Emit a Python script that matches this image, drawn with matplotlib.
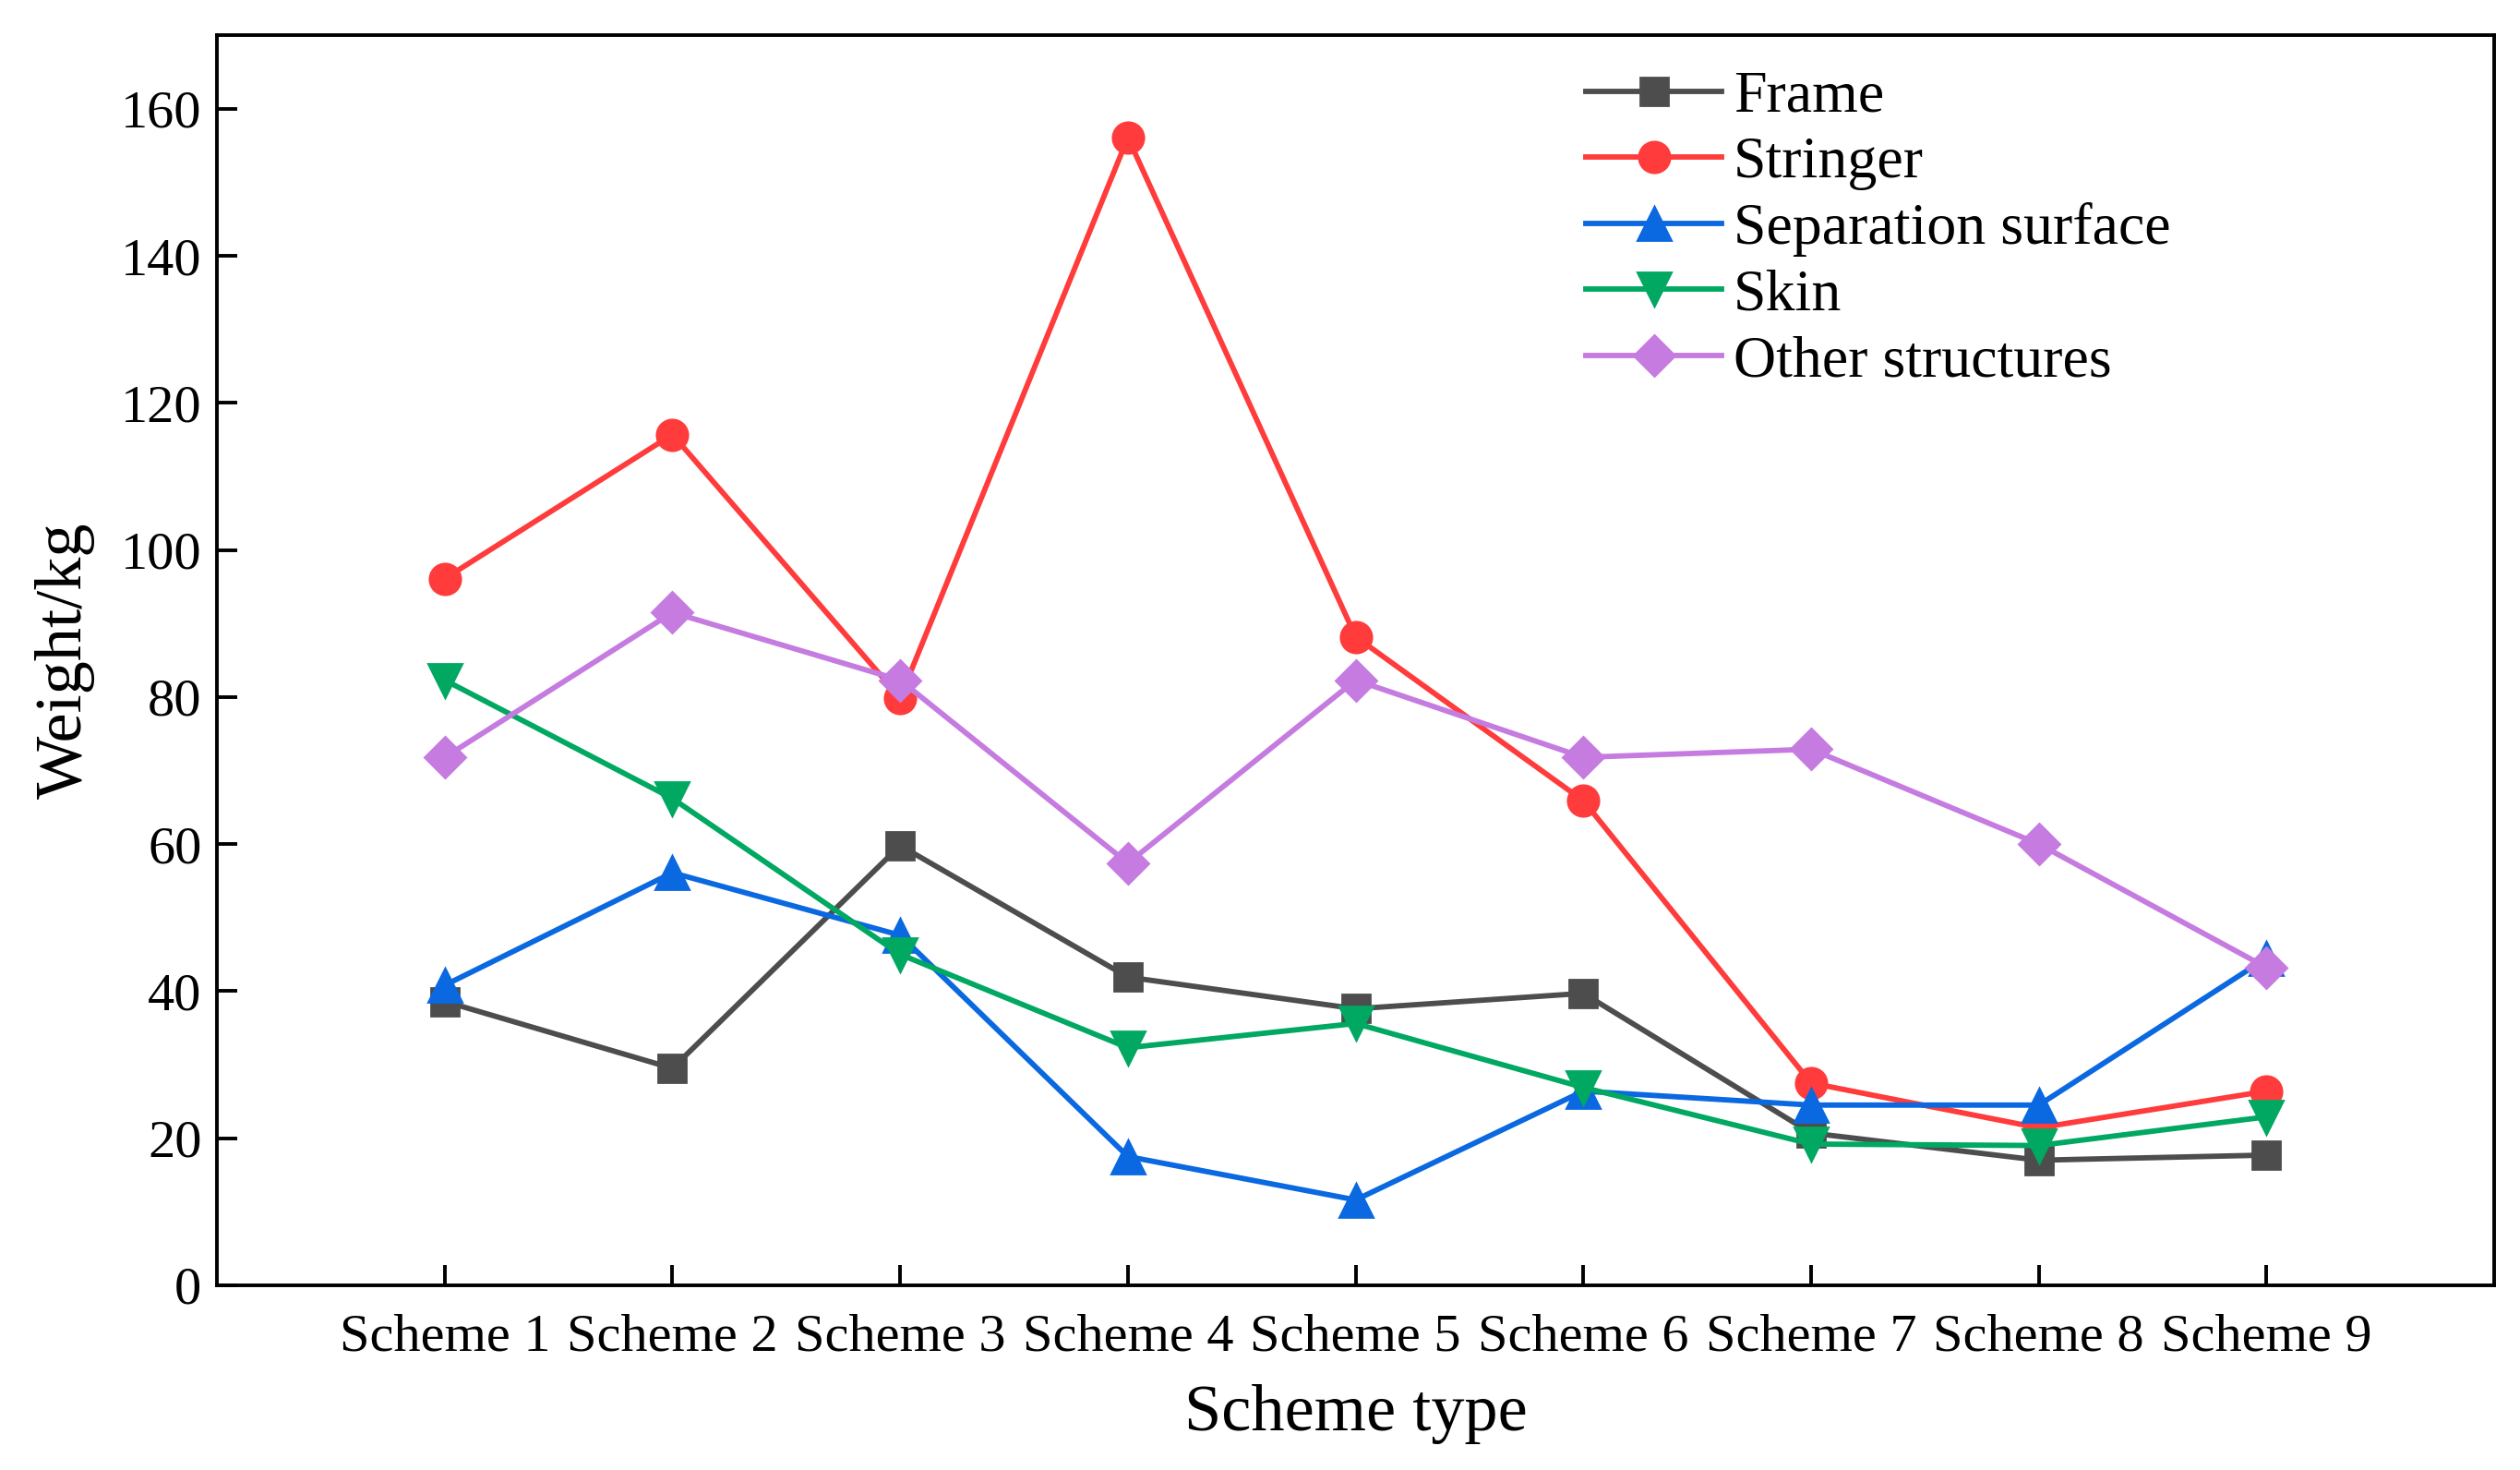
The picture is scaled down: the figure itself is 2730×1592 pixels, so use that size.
import numpy as np
import matplotlib
matplotlib.use("Agg")
import matplotlib.pyplot as plt

plt.rcParams['font.family'] = ['Liberation Serif', 'DejaVu Serif']

### Data
schemes = ["Scheme 1", "Scheme 2", "Scheme 3", "Scheme 4", "Scheme 5",
           "Scheme 6", "Scheme 7", "Scheme 8", "Scheme 9"]
frame = [38.6, 29.5, 59.8, 41.9, 37.6, 39.7, 20.7, 17.0, 17.7]
stringer = [96.1, 115.7, 79.9, 156.1, 88.2, 65.9, 27.5, 21.4, 26.4]
separation = [40.8, 56.1, 47.6, 17.5, 11.6, 26.4, 24.5, 24.5, 44.5]
skin = [82.3, 66.2, 45.0, 32.3, 35.6, 26.9, 19.2, 19.0, 22.9]
other = [71.8, 91.5, 82.3, 57.4, 82.3, 71.8, 72.9, 60.0, 43.2]
yticks = [0, 20, 40, 60, 80, 100, 120, 140, 160]

series = [
    ("Frame", frame, "#4d4d4d", "s", 11),
    ("Stringer", stringer, "#ff3b3b", "o", 12),
    ("Separation surface", separation, "#0a68e0", "^", 13),
    ("Skin", skin, "#00a862", "v", 13),
    ("Other structures", other, "#c57be0", "D", 11),
]

fig = plt.figure(figsize=(13.65, 7.96), dpi=200)
ax = fig.add_axes([0.0861, 0.1257, 0.9037, 0.8503])

x = np.arange(1, len(schemes) + 1)
for name, vals, col, mk, ms in series:
    ax.plot(x, vals, color=col, marker=mk, markersize=ms, linewidth=2.1,
            label=name)

ax.set_xlim(0, 10)
ax.set_ylim(0, 170)
ax.set_xticks(x)
ax.set_xticklabels(schemes)
ax.set_yticks(yticks)
ax.tick_params(axis='both', direction='in', length=8, width=1.4,
               labelsize=21, top=False, right=False)
ax.tick_params(axis='x', pad=11)
ax.tick_params(axis='y', pad=6)
for sp in ax.spines.values():
    sp.set_linewidth(1.4)

ax.set_xlabel("Scheme type", fontsize=26, labelpad=9)
ax.set_ylabel("Weight/kg", fontsize=26, labelpad=10)

ax.legend(loc='upper left', bbox_to_anchor=(0.583, 1.005), frameon=False,
          fontsize=23, handlelength=2.3, labelspacing=0.2,
          handletextpad=0.2, borderpad=0.2)

fig.savefig("out.png", dpi=200)
